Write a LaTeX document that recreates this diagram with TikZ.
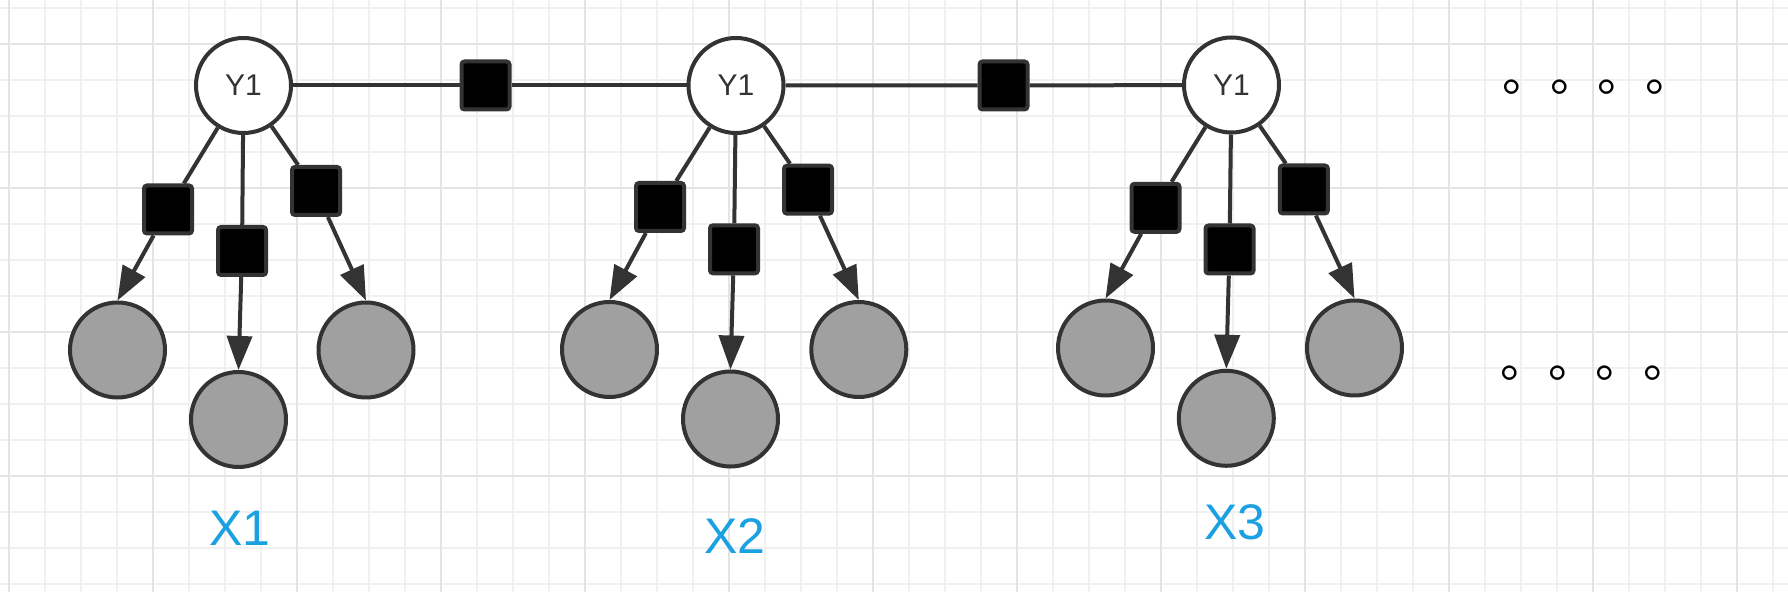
\documentclass[tikz,border=0pt]{standalone}
\usepackage{fontspec}
\setmainfont{Liberation Sans}
\newfontfamily\cjk{Noto Sans CJK SC}
\usepackage{tikz}
\usetikzlibrary{arrows.meta}

\definecolor{edgegray}{HTML}{333333}
\definecolor{obsgray}{HTML}{A0A0A0}
\definecolor{lblblue}{HTML}{1BA1E2}
\definecolor{gridminor}{HTML}{F0F0F0}
\definecolor{gridmajor}{HTML}{E4E4E4}

\begin{document}
\begin{tikzpicture}[
  x=0.5pt, y=-0.5pt,
  every node/.style={font=\fontsize{15pt}{18pt}\selectfont},
  var/.style={circle, draw=edgegray, fill=white, line width=2pt, minimum size=47.5pt, inner sep=0pt, text=edgegray},
  obs/.style={circle, draw=edgegray, fill=obsgray, line width=2pt, minimum size=47.5pt, inner sep=0pt},
  fac/.style={rectangle, draw=edgegray, fill=black, line width=2pt, minimum size=24pt, inner sep=0pt, rounded corners=1.5pt},
  lbl/.style={text=lblblue, inner sep=0pt, font=\fontsize{25pt}{30pt}\selectfont},
  dots/.style={inner sep=0pt, anchor=base west, font=\cjk\fontsize{23.85pt}{28pt}\selectfont},
  link/.style={draw=edgegray, line width=2pt},
  >={Triangle[length=17pt,width=12.5pt]}
]
\useasboundingbox (0,0) rectangle (1788,592);
\fill[white] (0,0) rectangle (1788,592);

% Grid
\begin{scope}[shift={(9,8)}]
  \draw[gridminor, line width=1pt, step=18pt] (-9,-8) grid (1779,584);
\end{scope}
\begin{scope}[shift={(9,44)}]
  \draw[gridmajor, line width=1pt, step=72pt] (-9,-44) grid (1779,548);
\end{scope}

% Nodes
\node[var] (y1) at (243.5,85.5) {Y1};
\node[var] (y2) at (736,85.5) {Y1};
\node[var] (y3) at (1231.5,85) {Y1};

\node[fac] (f12) at (485.5,85.5) {};
\node[fac] (f23) at (1003.5,85.5) {};

\node[fac] (f1a) at (168,209.5) {};
\node[fac] (f1b) at (242,251) {};
\node[fac] (f1c) at (316,191) {};
\node[obs] (x1a) at (117.5,350) {};
\node[obs] (x1b) at (238.5,419.5) {};
\node[obs] (x1c) at (366,350) {};

\node[fac] (f2a) at (660,207) {};
\node[fac] (f2b) at (734,249.3) {};
\node[fac] (f2c) at (808,189.7) {};
\node[obs] (x2a) at (609.5,349.5) {};
\node[obs] (x2b) at (730.5,419) {};
\node[obs] (x2c) at (858.8,349.5) {};

\node[fac] (f3a) at (1155.5,207.8) {};
\node[fac] (f3b) at (1229.5,249.5) {};
\node[fac] (f3c) at (1303.8,189.5) {};
\node[obs] (x3a) at (1105.5,348) {};
\node[obs] (x3b) at (1226.3,418.3) {};
\node[obs] (x3c) at (1354.5,348) {};

\node[lbl] (lx1) at (240,528) {X1};
\node[lbl] (lx2) at (735,536) {X2};
\node[lbl] (lx3) at (1235,522) {X3};

\node[dots] (dtop) at (1502,92) {。。。。};
\node[dots] (dbot) at (1500,378) {。。。。};

% Arrows
\draw[link] (y1) -- (f12) -- (y2);
\draw[link] (y2) -- (f23) -- (y3);

\draw[link] (y1) -- (f1a);
\draw[link] (y1) -- (f1b);
\draw[link] (y1) -- (f1c);
\draw[link,->] (f1a) -- (x1a.north);
\draw[link,->] (f1b) -- (x1b.north);
\draw[link,->] (f1c) -- (x1c.north);

\draw[link] (y2) -- (f2a);
\draw[link] (y2) -- (f2b);
\draw[link] (y2) -- (f2c);
\draw[link,->] (f2a) -- (x2a.north);
\draw[link,->] (f2b) -- (x2b.north);
\draw[link,->] (f2c) -- (x2c.north);

\draw[link] (y3) -- (f3a);
\draw[link] (y3) -- (f3b);
\draw[link] (y3) -- (f3c);
\draw[link,->] (f3a) -- (x3a.north);
\draw[link,->] (f3b) -- (x3b.north);
\draw[link,->] (f3c) -- (x3c.north);

\end{tikzpicture}
\end{document}
